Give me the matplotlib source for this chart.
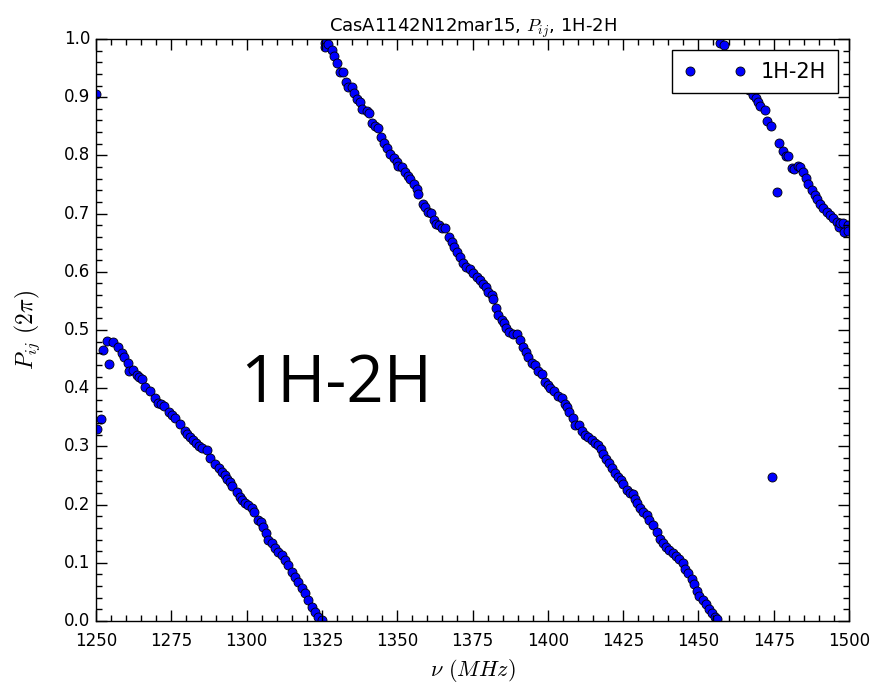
import matplotlib
matplotlib.use("Agg")
import matplotlib.pyplot as plt
from matplotlib.ticker import MultipleLocator

plt.style.use("classic")

# phase of baseline 1H-2H vs frequency, wrapped into [0, 1) turns
freq_low = [1250.0, 1250.3, 1251.7, 1252.3, 1253.6, 1254.4, 1255.6, 1257.3, 1258.6, 1259.3,
            1260.6, 1261.0, 1262.3, 1263.6, 1264.4, 1265.3, 1266.3, 1267.9, 1269.6, 1270.6,
            1271.5, 1272.6, 1274.2, 1275.2, 1276.2, 1277.9, 1279.5, 1280.3, 1281.2, 1282.2,
            1283.2, 1284.2, 1285.2, 1286.9, 1287.9, 1289.5, 1290.7, 1291.8, 1292.7, 1293.5,
            1294.4, 1295.2, 1296.8, 1297.8, 1298.5, 1299.5, 1300.5, 1301.8, 1302.5, 1303.8,
            1304.8, 1305.4, 1306.4, 1307.1, 1308.4, 1309.4, 1310.4, 1311.8, 1312.8, 1313.8,
            1315.1, 1316.1, 1317.1, 1318.4, 1319.4, 1320.4, 1321.7, 1322.7, 1323.7, 1325.0]
phase_low = [0.906, 0.330, 0.347, 0.466, 0.481, 0.441, 0.479, 0.471, 0.460, 0.454,
             0.443, 0.430, 0.431, 0.423, 0.420, 0.416, 0.402, 0.395, 0.383, 0.374,
             0.372, 0.369, 0.359, 0.354, 0.349, 0.338, 0.326, 0.321, 0.316, 0.311,
             0.306, 0.301, 0.297, 0.294, 0.280, 0.270, 0.263, 0.256, 0.250, 0.244,
             0.238, 0.232, 0.222, 0.213, 0.208, 0.203, 0.199, 0.194, 0.187, 0.174,
             0.170, 0.161, 0.151, 0.139, 0.134, 0.125, 0.119, 0.113, 0.105, 0.096,
             0.084, 0.076, 0.067, 0.057, 0.048, 0.036, 0.024, 0.015, 0.007, 0.002]

freq_mid = [1326.0, 1326.0, 1327.0, 1328.3, 1329.0, 1330.0, 1331.0, 1332.0, 1333.0, 1333.6,
            1335.0, 1335.6, 1336.6, 1337.6, 1338.3, 1340.0, 1340.6, 1341.6, 1342.6, 1343.6,
            1344.6, 1345.6, 1346.6, 1347.6, 1349.0, 1350.0, 1350.3, 1351.6, 1352.6, 1353.6,
            1354.3, 1355.6, 1356.6, 1357.0, 1358.6, 1359.3, 1360.3, 1361.2, 1362.2, 1362.9,
            1363.8, 1364.9, 1365.9, 1367.2, 1368.2, 1368.9, 1369.9, 1370.9, 1371.8, 1372.8,
            1374.2, 1375.2, 1376.5, 1377.5, 1378.5, 1379.5, 1380.2, 1381.5, 1381.8, 1382.8,
            1383.5, 1384.8, 1385.5, 1386.2, 1387.2, 1388.5, 1389.8, 1390.8, 1391.8, 1392.8,
            1393.4, 1394.8, 1395.8, 1396.7, 1398.1, 1399.1, 1400.1, 1400.7, 1402.1, 1403.4,
            1404.7, 1405.7, 1406.4, 1407.0, 1408.4, 1409.0, 1410.4, 1411.4, 1412.4, 1413.4,
            1414.7, 1415.7, 1416.7, 1417.7, 1418.4, 1419.3, 1420.3, 1421.3, 1422.3, 1423.3,
            1424.3, 1425.0, 1426.3, 1427.3, 1428.3, 1429.0, 1429.6, 1430.6, 1431.6, 1432.9,
            1433.6, 1434.9, 1436.2, 1437.2, 1438.2, 1439.2, 1440.2, 1441.6, 1442.6, 1443.6,
            1444.9, 1445.6, 1446.6, 1447.9, 1448.6, 1449.6, 1450.3, 1451.6, 1452.6, 1453.6,
            1454.5, 1455.5, 1456.2]
phase_mid = [0.993, 0.986, 0.991, 0.981, 0.971, 0.959, 0.943, 0.943, 0.926, 0.917,
             0.917, 0.907, 0.897, 0.892, 0.880, 0.876, 0.873, 0.856, 0.850, 0.847,
             0.832, 0.821, 0.813, 0.802, 0.796, 0.789, 0.782, 0.780, 0.772, 0.765,
             0.759, 0.751, 0.742, 0.734, 0.716, 0.711, 0.703, 0.701, 0.689, 0.682,
             0.680, 0.675, 0.675, 0.660, 0.651, 0.643, 0.634, 0.625, 0.615, 0.608,
             0.605, 0.598, 0.591, 0.586, 0.579, 0.574, 0.565, 0.560, 0.553, 0.538,
             0.526, 0.517, 0.512, 0.503, 0.497, 0.493, 0.493, 0.483, 0.471, 0.462,
             0.454, 0.443, 0.440, 0.430, 0.424, 0.411, 0.406, 0.400, 0.395, 0.387,
             0.383, 0.373, 0.368, 0.359, 0.349, 0.337, 0.337, 0.327, 0.320, 0.316,
             0.311, 0.306, 0.302, 0.296, 0.287, 0.278, 0.271, 0.263, 0.254, 0.247,
             0.242, 0.235, 0.225, 0.220, 0.218, 0.210, 0.203, 0.194, 0.187, 0.182,
             0.174, 0.165, 0.153, 0.141, 0.134, 0.127, 0.122, 0.117, 0.112, 0.107,
             0.100, 0.089, 0.082, 0.072, 0.064, 0.052, 0.043, 0.036, 0.029, 0.021,
             0.014, 0.007, 0.003]

freq_high = [1457.2, 1458.5, 1459.6, 1460.8, 1462.0, 1463.2, 1464.4, 1465.6, 1466.8, 1468.1,
             1469.1, 1469.8, 1470.4, 1472.1, 1472.7, 1474.1, 1474.4, 1476.1, 1476.8, 1478.1,
             1479.1, 1479.8, 1481.1, 1481.7, 1483.1, 1483.7, 1484.7, 1485.7, 1486.4, 1487.7,
             1488.7, 1489.4, 1490.4, 1491.4, 1492.7, 1493.7, 1494.7, 1496.0, 1496.7, 1497.0,
             1498.0, 1498.3, 1499.5, 1499.8]
phase_high = [0.993, 0.990, 0.968, 0.960, 0.952, 0.942, 0.932, 0.922, 0.912, 0.904,
              0.899, 0.892, 0.885, 0.878, 0.859, 0.850, 0.247, 0.737, 0.821, 0.808,
              0.799, 0.799, 0.778, 0.777, 0.782, 0.780, 0.771, 0.761, 0.751, 0.741,
              0.732, 0.725, 0.716, 0.710, 0.703, 0.698, 0.692, 0.686, 0.677, 0.684,
              0.684, 0.668, 0.680, 0.670]

freq = freq_low + freq_mid + freq_high
phase = phase_low + phase_mid + phase_high

fig = plt.figure(figsize=(8.76, 6.91), dpi=100, facecolor="white")
ax = fig.add_axes([0.1096, 0.1013, 0.8596, 0.8423])
ax.set_facecolor("white")

ax.plot(freq, phase, "o", color="blue", markeredgecolor="black",
        markeredgewidth=0.6, markersize=6.5, label="1H-2H")

ax.set_xlim(1250, 1500)
ax.set_ylim(0.0, 1.0)
ax.xaxis.set_major_locator(MultipleLocator(25))
ax.xaxis.set_minor_locator(MultipleLocator(5))
ax.yaxis.set_major_locator(MultipleLocator(0.1))
ax.yaxis.set_minor_locator(MultipleLocator(0.02))
ax.tick_params(which="major", direction="in", length=8, width=1, labelsize=12)
ax.tick_params(which="minor", direction="in", length=4, width=1)
ax.tick_params(axis="x", which="major", pad=8)

ax.set_title("CasA1142N12mar15, $P_{ij}$, 1H-2H", fontsize=13)
ax.set_xlabel(r"$\nu$ $(MHz)$", fontsize=16)
ax.set_ylabel(r"$P_{ij}$ $(2\pi)$", fontsize=17, labelpad=16)

ax.text(1329.7, 0.405, "1H-2H", fontsize=47, family="Open Sans",
        ha="center", va="center")

leg = ax.legend(loc="upper right", numpoints=2, fontsize=15, borderaxespad=0.55,
                handlelength=3.0, borderpad=0.55, handletextpad=0.7)
leg.get_frame().set_edgecolor("black")

fig.savefig("out.png", dpi=100, facecolor="white")
